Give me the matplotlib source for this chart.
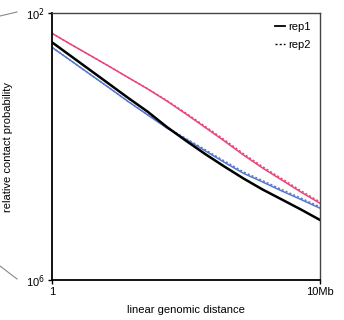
import numpy as np
import matplotlib.pyplot as plt
from matplotlib.lines import Line2D

plt.rcParams['font.family'] = ['Liberation Sans', 'DejaVu Sans']

# genomic distance (1 bp .. 10 Mb), half-decade steps, probabilities
distance = [1, 3.16, 10, 31.6, 100, 316, 1e3, 3.16e3, 1e4, 3.16e4,
            1e5, 3.16e5, 1e6, 3.16e6, 1e7]
pink_rep1 = [4.96e-3, 3.37e-3, 2.31e-3, 1.58e-3, 1.07e-3, 7.27e-4, 4.80e-4, 3.07e-4,
             1.93e-4, 1.21e-4, 7.46e-5, 4.76e-5, 3.15e-5, 2.08e-5, 1.41e-5]
pink_rep2 = [4.96e-3, 3.37e-3, 2.31e-3, 1.58e-3, 1.07e-3, 7.34e-4, 4.90e-4, 3.16e-4,
             2.01e-4, 1.27e-4, 7.83e-5, 5.00e-5, 3.31e-5, 2.18e-5, 1.48e-5]
black_rep1 = [3.64e-3, 2.25e-3, 1.39e-3, 8.58e-4, 5.29e-4, 3.32e-4, 1.96e-4, 1.22e-4,
              7.72e-5, 5.02e-5, 3.32e-5, 2.27e-5, 1.61e-5, 1.14e-5, 7.93e-6]
blue_rep1 = [3.06e-3, 1.92e-3, 1.20e-3, 7.52e-4, 4.67e-4, 2.97e-4, 1.89e-4, 1.28e-4,
             8.62e-5, 5.80e-5, 3.97e-5, 2.94e-5, 2.16e-5, 1.61e-5, 1.19e-5]
blue_rep2 = [3.06e-3, 1.92e-3, 1.20e-3, 7.52e-4, 4.67e-4, 3.00e-4, 1.93e-4, 1.32e-4,
             8.97e-5, 6.09e-5, 4.17e-5, 3.09e-5, 2.27e-5, 1.69e-5, 1.25e-5]

pink = '#e8457a'
blue = '#5577cc'

fig = plt.figure(figsize=(3.44, 3.2), dpi=100)
ax = fig.add_axes([52 / 344, 1 - 280 / 320, 268 / 344, 267 / 320])

ax.plot(distance, pink_rep1, color=pink, lw=1.1)
ax.plot(distance, pink_rep2, color=pink, lw=1.0, ls=(0, (1.5, 1.5)))
ax.plot(distance, blue_rep1, color=blue, lw=1.1)
ax.plot(distance, blue_rep2, color=blue, lw=1.0, ls=(0, (1.5, 1.5)))
ax.plot(distance, black_rep1, color='black', lw=1.8)

ax.set_xscale('log')
ax.set_yscale('log')
ax.set_xlim(1, 1e7)
ax.set_ylim(1e-6, 1e-2)
ax.set_xticks([1, 1e7])
ax.set_xticklabels(['1', '10Mb'])
ax.set_yticks([1e-6, 1e-2])
ax.set_yticklabels(['10$^6$', '10$^2$'])
ax.minorticks_off()
ax.tick_params(labelsize=8, length=3, width=1, pad=2)

for s in ['left', 'bottom']:
    ax.spines[s].set_linewidth(1.3)
    ax.spines[s].set_color('black')
for s in ['top', 'right']:
    ax.spines[s].set_linewidth(1.0)
    ax.spines[s].set_color('#444444')

ax.set_xlabel('linear genomic distance', fontsize=8, labelpad=6)
ax.set_ylabel('relative contact probability', fontsize=8)
ax.yaxis.set_label_coords(-0.145, 0.5)

handles = [Line2D([], [], color='black', lw=1.3),
           Line2D([], [], color='black', lw=1.0, ls=(0, (1.5, 1.5)))]
ax.legend(handles, ['rep1', 'rep2'], loc='upper right', frameon=False,
          fontsize=8, handlelength=0.9, handletextpad=0.3, labelspacing=0.7,
          borderaxespad=0.4)

# connector lines from a zoom inset on the left
fig.add_artist(Line2D([0, 17 / 344], [1 - 16 / 320, 1 - 12 / 320],
                      transform=fig.transFigure, color='#888888', lw=0.8))
fig.add_artist(Line2D([0, 17 / 344], [1 - 266 / 320, 1 - 279 / 320],
                      transform=fig.transFigure, color='#888888', lw=0.8))

fig.savefig('out.png', dpi=100)
